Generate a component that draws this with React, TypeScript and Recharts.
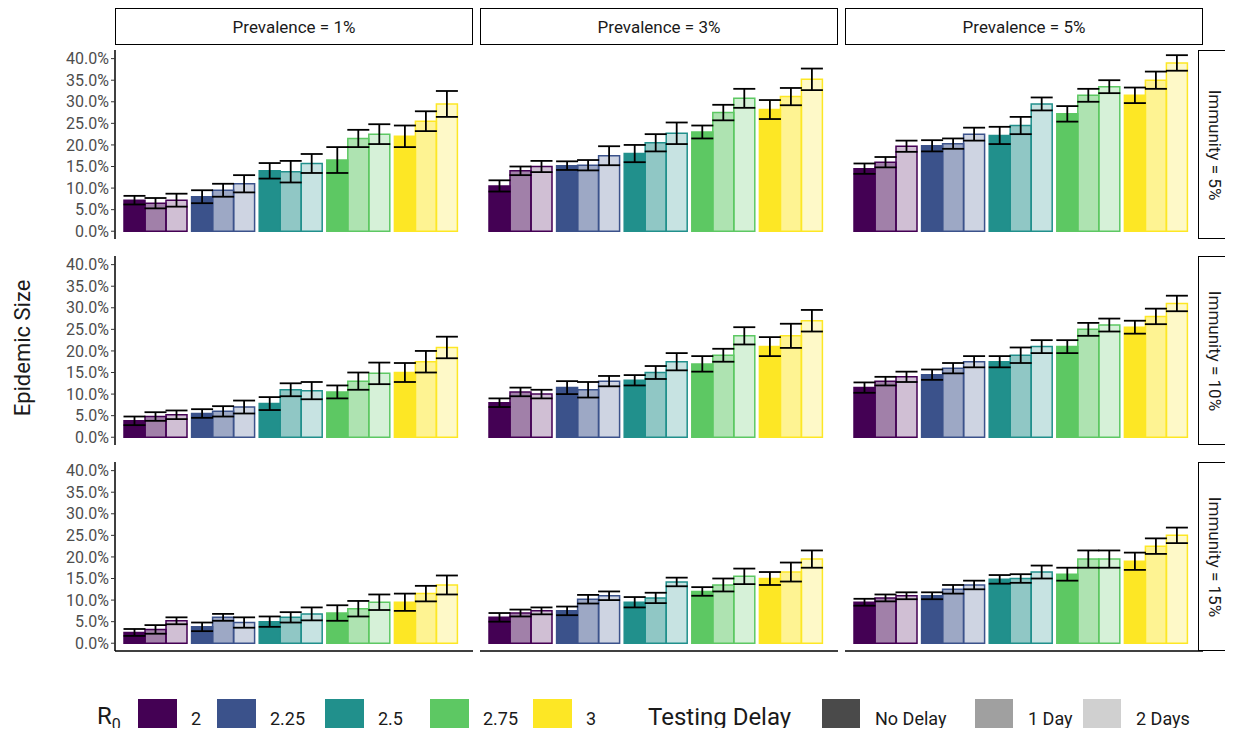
import { BarChart, Bar, XAxis, YAxis, ErrorBar, Cell } from 'recharts'

const r0Levels = ['2', '2.25', '2.5', '2.75', '3']
const r0Colors = ['#440154', '#3B528B', '#21908C', '#5DC863', '#FDE725']
const delays = ['No Delay', '1 Day', '2 Days']
const delayOpacity = [1, 0.5, 0.25]
const delayLegend = ['#4a4a4a', '#a0a0a0', '#d0d0d0']
const prevalences = ['Prevalence = 1%', 'Prevalence = 3%', 'Prevalence = 5%']
const immunities = ['Immunity = 5%', 'Immunity = 10%', 'Immunity = 15%']
const yTicks = [0, 5, 10, 15, 20, 25, 30, 35, 40]

// values per panel: 5 R0 groups x 3 delays (No Delay, 1 Day, 2 Days)
const imm5_prev1 = [7.2, 6.5, 7.2, 8, 9.5, 11, 14, 13.8, 15.7, 16.5, 21.5, 22.5, 22, 25.5, 29.5]
const imm5_prev3 = [10.5, 14, 15, 15.2, 15.3, 17.5, 18, 20.5, 22.7, 23, 27.5, 30.8, 28.2, 31.2, 35.2]
const imm5_prev5 = [14.5, 16, 19.7, 19.8, 20.3, 22.5, 22.2, 24.5, 29.5, 27.2, 31.5, 33.5, 31.5, 35, 39]
const imm10_prev1 = [3.8, 4.8, 5.2, 5.5, 6, 7, 7.8, 11, 10.8, 10.5, 13, 14.8, 15, 17.5, 20.8]
const imm10_prev3 = [8, 10.5, 10, 11.5, 11, 13, 13.2, 15, 17.5, 17, 19, 23.5, 21, 23.5, 27]
const imm10_prev5 = [11.5, 13, 14, 14.5, 16, 17.5, 17.5, 19, 21, 21, 25, 26, 25.5, 28, 31]
const imm15_prev1 = [2.5, 3.2, 5.2, 3.8, 6, 4.8, 5, 6, 6.8, 7, 8, 9.5, 9.5, 11.5, 13.5]
const imm15_prev3 = [6, 7, 7.5, 7.5, 10.2, 11, 9.5, 10.5, 14.2, 12, 13.5, 15.5, 15, 16.5, 19.5]
const imm15_prev5 = [9.5, 10.5, 11, 11, 12.5, 13.5, 14.8, 15, 16.5, 16, 19.5, 19.5, 19, 22.5, 25]

const err_imm5_prev1 = [1, 1.2, 1.5, 1.5, 1.5, 2, 1.8, 2.5, 2.2, 3, 2, 2.3, 2.5, 2.3, 3]
const err_imm5_prev3 = [1.3, 1, 1.3, 1, 1.2, 2.2, 2, 2, 2.5, 1.5, 1.8, 2.2, 2.2, 2, 2.5]
const err_imm5_prev5 = [1.2, 1.2, 1.3, 1.3, 1.2, 1.5, 2, 2, 1.5, 1.8, 1.5, 1.5, 1.8, 2, 1.8]
const err_imm10_prev1 = [1, 1, 1, 1, 1.2, 1.5, 1.5, 1.5, 2, 1.5, 2, 2.5, 2.2, 2.5, 2.5]
const err_imm10_prev3 = [1, 1, 1, 1.5, 1.8, 1.2, 1.2, 1.5, 2, 1.8, 1.5, 2, 2.2, 2.8, 2.5]
const err_imm10_prev5 = [1.2, 1, 1.2, 1.2, 1.2, 1.3, 1.3, 1.8, 1.5, 1.5, 1.5, 1.5, 1.5, 1.8, 1.8]
const err_imm15_prev1 = [0.8, 1, 0.8, 1, 0.8, 1.2, 1.2, 1.2, 1.5, 1.8, 1.8, 1.8, 2, 1.8, 2.2]
const err_imm15_prev3 = [1, 0.8, 0.8, 1, 1, 1, 1.2, 1.2, 1, 1, 1.5, 1.8, 1.5, 2.2, 2]
const err_imm15_prev5 = [0.8, 0.8, 0.8, 0.8, 1, 1, 1, 1, 1.5, 1.5, 2, 2, 2, 1.8, 1.8]

const panels = [
  [imm5_prev1, imm5_prev3, imm5_prev5],
  [imm10_prev1, imm10_prev3, imm10_prev5],
  [imm15_prev1, imm15_prev3, imm15_prev5],
]
const panelErrs = [
  [err_imm5_prev1, err_imm5_prev3, err_imm5_prev5],
  [err_imm10_prev1, err_imm10_prev3, err_imm10_prev5],
  [err_imm15_prev1, err_imm15_prev3, err_imm15_prev5],
]

const font = 'Roboto, "Liberation Sans", Arial, sans-serif'
const colX = [115, 480, 845]
const plotW = 358
const rowY = [50, 256, 462]
const plotH = 189
const yAxisW = 85
const padB = 10
const r0SquareX = [138, 217, 325, 430, 533]
const delaySquareX = [822, 975, 1083]

function Panel({ vals, errs, showY, showX }: { vals: number[]; errs: number[]; showY: boolean; showX: boolean }) {
  const data = r0Levels.map((r, i) => ({
    r,
    d0: vals[i * 3], d1: vals[i * 3 + 1], d2: vals[i * 3 + 2],
    e0: errs[i * 3], e1: errs[i * 3 + 1], e2: errs[i * 3 + 2],
  }))
  return (
    <BarChart width={plotW + (showY ? yAxisW : 0)} height={plotH + padB + (showX ? 1 : 0)} data={data}
      margin={{ top: 0, right: 0, bottom: padB, left: 0 }} barCategoryGap={2} barGap={0}>
      <XAxis dataKey="r" hide={!showX} tick={false} tickLine={false} height={1} padding={{ left: 7, right: 13 }}
        axisLine={{ stroke: '#000', strokeWidth: 1.5 }} />
      <YAxis domain={[-1.8, 42]} ticks={yTicks} hide={!showY} width={yAxisW} interval={0} allowDataOverflow
        tickFormatter={(v) => `${v.toFixed(1)}%`} axisLine={{ stroke: '#000', strokeWidth: 1.5 }}
        tickLine={{ stroke: '#333' }} tickSize={4}
        tick={{ fontSize: 16, fill: '#4d4d4d', fontFamily: font }} />
      {[0, 1, 2].map((d) => (
        <Bar key={d} dataKey={`d${d}`} isAnimationActive={false} strokeWidth={1.5}>
          {data.map((_, i) => (
            <Cell key={i} fill={r0Colors[i]} fillOpacity={delayOpacity[d]} stroke={r0Colors[i]} />
          ))}
          <ErrorBar dataKey={`e${d}`} width={11} stroke="#000" strokeWidth={1.8} />
        </Bar>
      ))}
    </BarChart>
  )
}

const box = { position: 'absolute' as const, border: '1.5px solid #000', background: '#fff', boxSizing: 'border-box' as const,
  display: 'flex', alignItems: 'center', justifyContent: 'center', fontSize: 17, color: '#1a1a1a' }

export default function App() {
  return (
    <div style={{ position: 'relative', width: 1233, height: 736, background: '#fff', margin: -8, fontFamily: font, overflow: 'hidden' }}>
      {prevalences.map((p, c) => (
        <div key={p} style={{ ...box, left: colX[c], top: 8, width: plotW, height: 37 }}>{p}</div>
      ))}
      {immunities.map((m, r) => (
        <div key={m} style={{ ...box, left: 1198, top: rowY[r], width: 35, height: plotH }}>
          <span style={{ transform: 'rotate(90deg)', whiteSpace: 'nowrap' }}>{m}</span>
        </div>
      ))}
      {panels.map((row, r) => row.map((vals, c) => (
        <div key={`${r}-${c}`} style={{ position: 'absolute', left: colX[c] - (c === 0 ? yAxisW : 0), top: rowY[r] }}>
          <Panel vals={vals} errs={panelErrs[r][c]} showY={c === 0} showX={r === 2} />
        </div>
      )))}
      <div style={{ position: 'absolute', left: 22, top: 348, transform: 'translate(-50%, -50%) rotate(-90deg)', fontSize: 22, color: '#1a1a1a', whiteSpace: 'nowrap' }}>
        Epidemic Size
      </div>
      <div style={{ position: 'absolute', left: 97, top: 702, fontSize: 24, color: '#1a1a1a', lineHeight: '28px' }}>
        R<sub style={{ fontSize: 16, verticalAlign: -6 }}>0</sub>
      </div>
      {r0Levels.map((r, i) => (
        <div key={r} style={{ position: 'absolute', left: r0SquareX[i], top: 699, display: 'flex', alignItems: 'center' }}>
          <div style={{ width: 39, height: 39, background: r0Colors[i] }} />
          <span style={{ marginLeft: 14, fontSize: 18, color: '#1a1a1a' }}>{r}</span>
        </div>
      ))}
      <div style={{ position: 'absolute', left: 648, top: 703, fontSize: 24, color: '#1a1a1a', lineHeight: '28px' }}>Testing Delay</div>
      {delays.map((d, i) => (
        <div key={d} style={{ position: 'absolute', left: delaySquareX[i], top: 699, display: 'flex', alignItems: 'center' }}>
          <div style={{ width: 38, height: 39, background: delayLegend[i] }} />
          <span style={{ marginLeft: 15, fontSize: 18, color: '#1a1a1a', whiteSpace: 'nowrap' }}>{d}</span>
        </div>
      ))}
    </div>
  )
}
